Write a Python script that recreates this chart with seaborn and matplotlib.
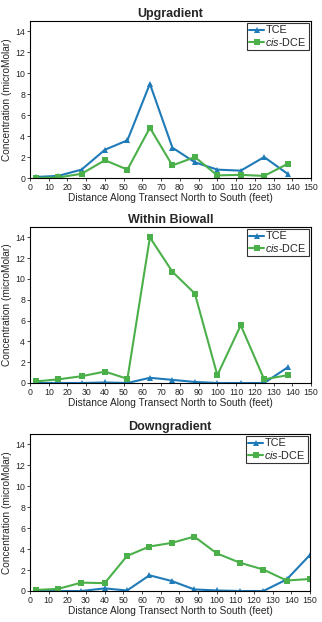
import numpy as np
import pandas as pd
import matplotlib
matplotlib.use("Agg")
import matplotlib.pyplot as plt
import seaborn as sns

sns.set_style("white")
plt.rcParams['font.family'] = ['Liberation Sans', 'DejaVu Sans']
plt.rcParams['mathtext.fontset'] = 'custom'
plt.rcParams['mathtext.it'] = 'Liberation Sans:italic'
plt.rcParams['mathtext.rm'] = 'Liberation Sans'

titles = ["Upgradient", "Within Biowall", "Downgradient"]
dist12 = [3, 15, 27.5, 40, 52, 64, 76, 88, 100, 112.5, 125, 137.5]
dist3 = [3, 15, 27.5, 40, 52, 64, 76, 88, 100, 112.5, 125, 137.5, 150]

up_tce = [0.1, 0.2, 0.8, 2.7, 3.6, 9.0, 2.9, 1.5, 0.8, 0.7, 2.0, 0.4]
up_dce = [0.0, 0.05, 0.4, 1.7, 0.8, 4.8, 1.2, 2.0, 0.25, 0.3, 0.2, 1.35]
bw_tce = [0.0, 0.0, 0.0, 0.05, 0.0, 0.5, 0.3, 0.1, 0.0, 0.0, 0.0, 1.5]
bw_dce = [0.15, 0.35, 0.65, 1.1, 0.4, 14.0, 10.7, 8.6, 0.75, 5.55, 0.35, 0.75]
dn_tce = [0.0, 0.0, 0.0, 0.25, 0.05, 1.5, 0.95, 0.15, 0.05, 0.0, 0.0, 1.1, 3.45]
dn_dce = [0.1, 0.2, 0.8, 0.75, 3.35, 4.25, 4.6, 5.2, 3.6, 2.7, 2.05, 1.0, 1.15]

series_names = ["TCE", "cis-DCE"]
colors = {"TCE": "#1f7ab8", "cis-DCE": "#4bb04a"}
markers = {"TCE": "^", "cis-DCE": "s"}

panels = [(dist12, up_tce, up_dce), (dist12, bw_tce, bw_dce), (dist3, dn_tce, dn_dce)]

fig = plt.figure(figsize=(3.22, 6.22), dpi=100)
W, H = 322, 622
boxes = [(30, 21, 281, 157), (30, 227, 281, 156), (30, 434, 280, 157)]

for (x0, y0, w, h), title, (d, tce, dce) in zip(boxes, titles, panels):
    ax = fig.add_axes([x0 / W, 1 - (y0 + h) / H, w / W, h / H])
    df = pd.DataFrame({
        "dist": list(d) * 2,
        "conc": list(tce) + list(dce),
        "series": ["TCE"] * len(d) + ["cis-DCE"] * len(d),
    })
    sns.lineplot(data=df, x="dist", y="conc", hue="series", style="series",
                 palette=colors, markers=markers, dashes=False, ax=ax,
                 linewidth=1.5, markersize=4.5, markeredgewidth=0,
                 hue_order=series_names, style_order=series_names)
    ax.set_xlim(0, 150)
    ax.set_ylim(0, 15)
    ax.set_xticks(np.arange(0, 151, 10))
    ax.set_yticks(np.arange(0, 15, 2))
    ax.tick_params(axis='both', labelsize=6.3, length=2, width=0.6, direction='out', pad=1.5)
    ax.tick_params(bottom=True, left=True)
    for s in ax.spines.values():
        s.set_linewidth(0.8)
        s.set_color('black')
    ax.set_title(title, fontsize=9, fontweight='bold', pad=3)
    ax.set_xlabel("Distance Along Transect North to South (feet)", fontsize=7.3, labelpad=1)
    ax.set_ylabel("Concentration (microMolar)", fontsize=7.3, labelpad=2)
    handles, labels = ax.get_legend_handles_labels()
    labels = ["TCE", "$\\it{cis}$-DCE"]
    leg = ax.legend(handles, labels, loc='upper right', fontsize=7.8, frameon=True,
                    fancybox=False, edgecolor='black', handlelength=1.4,
                    handletextpad=0.1, borderpad=0.2, labelspacing=0.05,
                    borderaxespad=0.2)
    leg.get_frame().set_linewidth(0.8)

fig.savefig("out.png", dpi=100)
